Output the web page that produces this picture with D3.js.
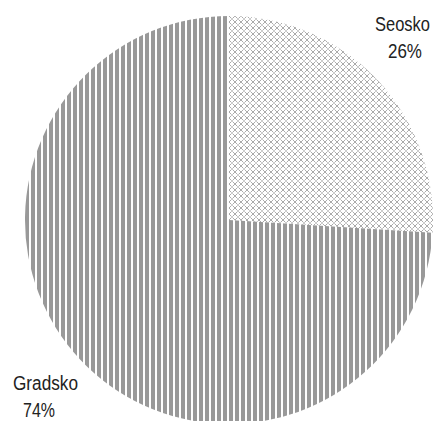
<!DOCTYPE html>
<html><head><meta charset="utf-8">
<script src="https://cdn.jsdelivr.net/npm/d3@7"></script>
<style>html,body{margin:0;padding:0;background:#fff;overflow:hidden}</style>
</head><body>
<script>
const categories = ["Seosko", "Gradsko"];
const values = [26, 74];
const labels = ["26%", "74%"];

const W = 435, H = 421;
const cx = 229, cy = 220, R = 204;

const svg = d3.select("body").append("svg").attr("width", W).attr("height", H);
const defs = svg.append("defs");

// vertical stripes
const ps = defs.append("pattern").attr("id", "stripes").attr("patternUnits", "userSpaceOnUse")
  .attr("width", 6).attr("height", 6);
ps.append("rect").attr("width", 6).attr("height", 6).attr("fill", "#fff");
ps.append("rect").attr("x", 0).attr("width", 4).attr("height", 6).attr("fill", "#999");

// checker / lattice
const pc = defs.append("pattern").attr("id", "checker").attr("patternUnits", "userSpaceOnUse")
  .attr("width", 6).attr("height", 6);
pc.append("rect").attr("width", 6).attr("height", 6).attr("fill", "#fff");
pc.append("path").attr("d", "M0,0L3,3L0,6M6,0L3,3L6,6").attr("stroke", "#aaa").attr("stroke-width", 1).attr("fill", "none");
pc.append("rect").attr("x", 2).attr("y", 2).attr("width", 2).attr("height", 2).attr("fill", "#ccc");

const fills = ["url(#checker)", "url(#stripes)"];

const pie = d3.pie().sort(null).value(d => d)(values);
const arc = d3.arc().innerRadius(0).outerRadius(R);

svg.append("g").attr("transform", `translate(${cx},${cy})`)
  .selectAll("path").data(pie).join("path")
  .attr("d", arc).attr("fill", (d, i) => fills[i]);

const textPos = [
  { x1: 375, w1: 55, y1: 31, x2: 388, w2: 34, y2: 58 },
  { x1: 13, w1: 65, y1: 390, x2: 23, w2: 32, y2: 417 }
];
const tg = svg.append("g").attr("font-family", "'Liberation Sans', Arial, sans-serif")
  .attr("font-size", 21).attr("fill", "#222");
function addText(str, x, y, w) {
  const t = tg.append("text").text(str);
  const nat = t.node().getComputedTextLength();
  const s = Math.min(1, w / nat);
  t.attr("transform", `translate(${x},${y}) scale(${s},1)`);
}
categories.forEach((c, i) => {
  const p = textPos[i];
  addText(c, p.x1, p.y1, p.w1);
  addText(labels[i], p.x2, p.y2, p.w2);
});
</script>
</body></html>
